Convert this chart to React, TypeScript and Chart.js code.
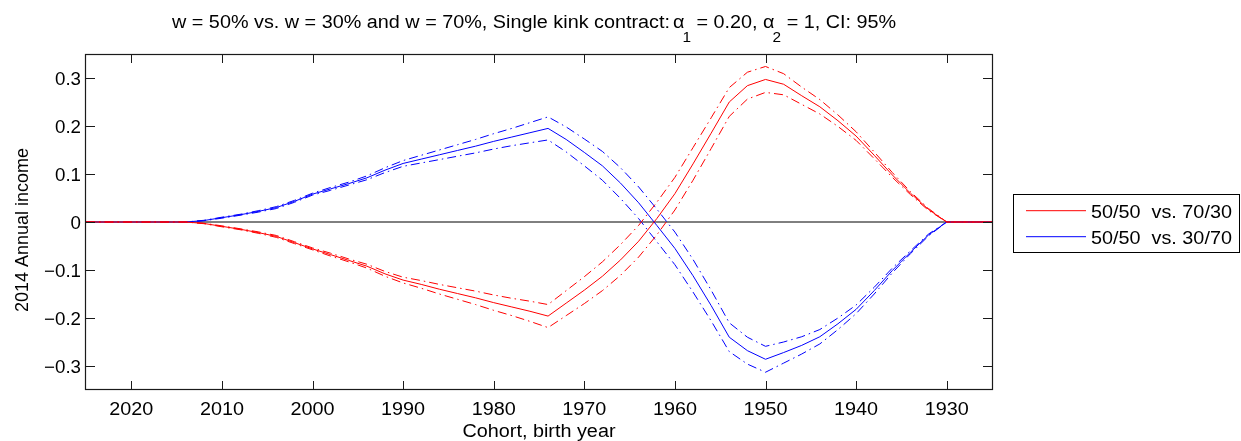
import { useEffect, useRef } from "react";
import { Chart, registerables } from "chart.js";

Chart.register(...registerables);

// ---------------- data ----------------
const years = [
  2025, 2020, 2014, 2012, 2010, 2008, 2006, 2004, 2002, 2000, 1998, 1996, 1994, 1992, 1990,
  1988, 1986, 1984, 1982, 1980, 1978, 1976, 1974, 1972, 1970, 1968, 1966, 1964, 1962, 1960,
  1958, 1956, 1954, 1952, 1950, 1948, 1946, 1944, 1942, 1940, 1938, 1936, 1934, 1932, 1930, 1925,
];

const redMean = [
  0, 0, 0, -0.003, -0.009, -0.015, -0.022, -0.03, -0.043, -0.056, -0.068, -0.08, -0.092, -0.108, -0.121,
  -0.13, -0.14, -0.149, -0.158, -0.168, -0.177, -0.186, -0.196, -0.169, -0.142, -0.113, -0.079, -0.04, 0.007, 0.059,
  0.121, 0.185, 0.25, 0.284, 0.297, 0.287, 0.263, 0.24, 0.211, 0.179, 0.139, 0.098, 0.06, 0.026, 0, 0,
];
const redUpper = [
  0, 0, 0, -0.0025, -0.008, -0.014, -0.0205, -0.028, -0.041, -0.054, -0.065, -0.077, -0.088, -0.103, -0.115,
  -0.122, -0.13, -0.137, -0.144, -0.152, -0.159, -0.165, -0.172, -0.143, -0.114, -0.083, -0.047, -0.007, 0.041, 0.093,
  0.155, 0.217, 0.28, 0.312, 0.324, 0.309, 0.281, 0.255, 0.223, 0.188, 0.146, 0.103, 0.063, 0.028, 0, 0,
];
const redLower = [
  0, 0, 0, -0.0035, -0.01, -0.016, -0.0235, -0.032, -0.045, -0.058, -0.071, -0.083, -0.096, -0.113, -0.127,
  -0.138, -0.15, -0.161, -0.172, -0.184, -0.195, -0.207, -0.22, -0.195, -0.17, -0.143, -0.111, -0.073, -0.027, 0.025,
  0.087, 0.153, 0.22, 0.256, 0.27, 0.265, 0.245, 0.225, 0.199, 0.17, 0.132, 0.093, 0.057, 0.024, 0, 0,
];

const blueMean = [
  0, 0, 0, 0.003, 0.009, 0.015, 0.022, 0.03, 0.043, 0.058, 0.069, 0.08, 0.092, 0.108, 0.122,
  0.131, 0.14, 0.149, 0.158, 0.168, 0.177, 0.186, 0.195, 0.172, 0.145, 0.117, 0.081, 0.04, -0.007, -0.055,
  -0.112, -0.174, -0.24, -0.268, -0.286, -0.272, -0.257, -0.239, -0.212, -0.182, -0.143, -0.101, -0.063, -0.027, 0, 0,
];
const blueUpper = [
  0, 0, 0, 0.0035, 0.01, 0.016, 0.0235, 0.032, 0.045, 0.06, 0.072, 0.083, 0.096, 0.113, 0.128,
  0.139, 0.15, 0.161, 0.172, 0.184, 0.195, 0.207, 0.219, 0.198, 0.173, 0.147, 0.113, 0.073, 0.027, -0.021,
  -0.078, -0.142, -0.21, -0.24, -0.259, -0.25, -0.239, -0.224, -0.2, -0.173, -0.136, -0.096, -0.06, -0.025, 0, 0,
];
const blueLower = [
  0, 0, 0, 0.0025, 0.008, 0.014, 0.0205, 0.028, 0.041, 0.056, 0.066, 0.077, 0.088, 0.103, 0.116,
  0.123, 0.13, 0.137, 0.144, 0.152, 0.159, 0.165, 0.171, 0.146, 0.117, 0.087, 0.049, 0.007, -0.041, -0.089,
  -0.146, -0.206, -0.27, -0.296, -0.313, -0.294, -0.275, -0.254, -0.224, -0.191, -0.15, -0.106, -0.066, -0.029, 0, 0,
];

const zeroLineYears = [2025, 1925];
const zeroLineValues = [0, 0];

const xTickValues = [2020, 2010, 2000, 1990, 1980, 1970, 1960, 1950, 1940, 1930];
const xTickLabels = ["2020", "2010", "2000", "1990", "1980", "1970", "1960", "1950", "1940", "1930"];
const yTickValues = [0.3, 0.2, 0.1, 0, -0.1, -0.2, -0.3];
const yTickLabels = ["0.3", "0.2", "0.1", "0", "\u22120.1", "\u22120.2", "\u22120.3"];

const seriesNames = ["50/50  vs. 70/30", "50/50  vs. 30/70"];
const seriesColors = ["#ff0000", "#0000ff"];

const titleParts = [
  { text: "w = 50% vs. w = 30% and w = 70%, Single kink contract:", sub: false, gapAfter: 3 },
  { text: "\u03b1", sub: false, gapAfter: -2 },
  { text: "1", sub: true, gapAfter: 0 },
  { text: " = 0.20, ", sub: false, gapAfter: 0 },
  { text: "\u03b1", sub: false, gapAfter: -2 },
  { text: "2", sub: true, gapAfter: 0 },
  { text: " = 1, CI: 95%", sub: false, gapAfter: 0 },
];
const xAxisTitle = "Cohort, birth year";
const yAxisTitle = "2014 Annual income";

// ---------------- helpers ----------------
const FONT_FAMILY = '"Liberation Sans", Arial, Helvetica, sans-serif';
const font = (px: number) => `${px}px ${FONT_FAMILY}`;
const toPoints = (xs: number[], ys: number[]) => xs.map((x, i) => ({ x, y: ys[i] }));
const DASH_DOT = [9, 4, 1.5, 4];
const WIDE = 1.1; // horizontal stretch of the reference's horizontal texts

function stretchedText(ctx: CanvasRenderingContext2D, text: string, x: number, y: number, align: CanvasTextAlign, sx: number) {
  ctx.save();
  ctx.translate(x, y);
  ctx.scale(sx, 1);
  ctx.textAlign = align;
  ctx.fillText(text, 0, 0);
  ctx.restore();
}

const decorPlugin = {
  id: "matlabDecor",
  afterDraw(chart: any) {
    const { ctx, chartArea } = chart;
    const xs = chart.scales.x;
    const ys = chart.scales.y;
    const L = chartArea.left;
    const R = chartArea.right;
    const T = chartArea.top;
    const B = chartArea.bottom;
    ctx.save();

    // frame
    ctx.strokeStyle = "#1a1a1a";
    ctx.lineWidth = 1.2;
    ctx.setLineDash([]);
    ctx.strokeRect(Math.round(L) - 0.5, Math.round(T) + 0.5, Math.round(R - L) + 1, Math.round(B - T) - 1);

    // inward ticks
    const tl = 9;
    ctx.lineWidth = 1;
    ctx.beginPath();
    xTickValues.forEach((v) => {
      const px = Math.round(xs.getPixelForValue(v)) + 0.5;
      ctx.moveTo(px, B);
      ctx.lineTo(px, B - tl);
      ctx.moveTo(px, T);
      ctx.lineTo(px, T + tl);
    });
    yTickValues.forEach((v) => {
      const py = Math.round(ys.getPixelForValue(v)) + 0.5;
      ctx.moveTo(L, py);
      ctx.lineTo(L + tl, py);
      ctx.moveTo(R, py);
      ctx.lineTo(R - tl, py);
    });
    ctx.stroke();

    // tick labels
    ctx.fillStyle = "#000";
    ctx.font = font(18);
    ctx.textBaseline = "alphabetic";
    xTickValues.forEach((v, i) => {
      stretchedText(ctx, xTickLabels[i], xs.getPixelForValue(v), 415, "center", WIDE);
    });
    yTickValues.forEach((v, i) => {
      stretchedText(ctx, yTickLabels[i], L - 5, ys.getPixelForValue(v) + 6.8, "right", 1.04);
    });

    // axis titles
    stretchedText(ctx, xAxisTitle, (L + R) / 2, 437, "center", WIDE);
    ctx.save();
    ctx.translate(28, 230);
    ctx.rotate(-Math.PI / 2);
    ctx.textAlign = "center";
    ctx.fillText(yAxisTitle, 0, 0);
    ctx.restore();

    // title with subscripts
    let tx = 172;
    titleParts.forEach((p) => {
      ctx.font = font(p.sub ? 14 : 18);
      stretchedText(ctx, p.text, tx, p.sub ? 41.5 : 28.3, "left", WIDE);
      tx += ctx.measureText(p.text).width * WIDE + p.gapAfter;
    });

    // legend
    const bx = 1013.5;
    const by = 194.5;
    const bw = 226;
    const bh = 58;
    ctx.fillStyle = "#fff";
    ctx.fillRect(bx, by, bw, bh);
    ctx.strokeStyle = "#000";
    ctx.lineWidth = 1;
    ctx.strokeRect(bx, by, bw, bh);
    const rowY = [210.7, 236.7];
    seriesNames.forEach((name, i) => {
      ctx.strokeStyle = seriesColors[i];
      ctx.beginPath();
      ctx.moveTo(1026, rowY[i]);
      ctx.lineTo(1086, rowY[i]);
      ctx.stroke();
      ctx.fillStyle = "#000";
      ctx.font = font(18);
      stretchedText(ctx, name, 1091, rowY[i] + 7.5, "left", WIDE);
    });

    ctx.restore();
  },
};

export default function App() {
  const canvasRef = useRef<HTMLCanvasElement | null>(null);

  useEffect(() => {
    const canvas = canvasRef.current;
    if (!canvas) return;

    const solid = (label: string, color: string, ys: number[]) => ({
      label,
      data: toPoints(years, ys),
      borderColor: color,
      backgroundColor: color,
      borderWidth: 1,
      pointRadius: 0,
      fill: false,
      tension: 0,
    });
    const ci = (label: string, color: string, ys: number[]) => ({
      ...solid(label, color, ys),
      borderDash: DASH_DOT,
    });

    const chart = new Chart(canvas, {
      type: "line",
      data: {
        datasets: [
          solid(seriesNames[0], seriesColors[0], redMean),
          ci("red upper", seriesColors[0], redUpper),
          ci("red lower", seriesColors[0], redLower),
          solid(seriesNames[1], seriesColors[1], blueMean),
          ci("blue upper", seriesColors[1], blueUpper),
          ci("blue lower", seriesColors[1], blueLower),
          {
            label: "zero",
            data: toPoints(zeroLineYears, zeroLineValues),
            borderColor: "#000",
            borderWidth: 1,
            pointRadius: 0,
            fill: false,
            tension: 0,
          },
        ],
      },
      options: {
        animation: false,
        responsive: false,
        maintainAspectRatio: false,
        events: [],
        layout: { padding: { left: 0, right: 249, top: 54, bottom: 0 } },
        plugins: {
          legend: { display: false },
          title: { display: false },
          tooltip: { enabled: false },
        },
        scales: {
          x: {
            type: "linear",
            min: 1925,
            max: 2025,
            reverse: true,
            grid: { display: false, drawTicks: false },
            border: { display: false },
            ticks: { display: false },
            afterBuildTicks: (s: any) => {
              s.ticks = xTickValues.map((v) => ({ value: v }));
            },
            afterFit: (s: any) => {
              s.height = 51;
            },
          },
          y: {
            type: "linear",
            min: -0.35,
            max: 0.35,
            grid: { display: false, drawTicks: false },
            border: { display: false },
            ticks: { display: false },
            afterBuildTicks: (s: any) => {
              s.ticks = yTickValues.map((v) => ({ value: v }));
            },
            afterFit: (s: any) => {
              s.width = 86;
            },
          },
        },
      } as any,
      plugins: [decorPlugin],
    });

    return () => chart.destroy();
  }, []);

  return (
    <div style={{ position: "absolute", left: 0, top: 0, width: 1241, height: 441, background: "#fff" }}>
      <canvas ref={canvasRef} width={1241} height={441} style={{ display: "block", width: 1241, height: 441 }} />
    </div>
  );
}
